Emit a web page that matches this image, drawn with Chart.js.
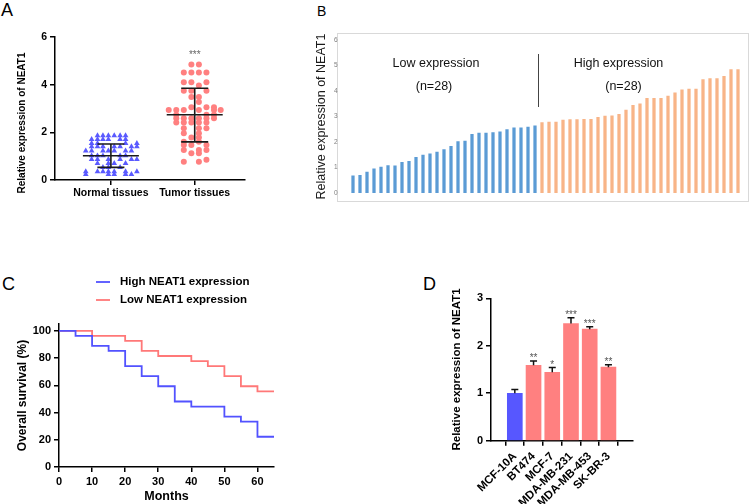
<!DOCTYPE html>
<html><head><meta charset="utf-8">
<script src="https://cdn.jsdelivr.net/npm/chart.js@4.4.0/dist/chart.umd.min.js"></script>
<style>
html,body{margin:0;padding:0;background:#fff;width:750px;height:504px;overflow:hidden;position:relative;font-family:'Liberation Sans',Arial,sans-serif}
canvas{position:absolute}
.lbl{position:absolute;font-size:18px;line-height:18px;color:#000}
#boxB{position:absolute;left:337px;top:33px;width:410px;height:167px;border:1px solid #d9d9d9}
</style></head><body>
<div id="boxB"></div>
<div class="lbl" style="left:1px;top:1px">A</div>
<div class="lbl" style="left:317px;top:4px;font-size:14px;line-height:14px">B</div>
<div class="lbl" style="left:2px;top:275px">C</div>
<div class="lbl" style="left:423px;top:275px">D</div>
<canvas id="cA" width="260" height="210" style="left:0;top:0"></canvas>
<canvas id="cB" width="450" height="190" style="left:300px;top:20px"></canvas>
<canvas id="cC" width="300" height="264" style="left:0;top:240px"></canvas>
<canvas id="cD" width="230" height="234" style="left:420px;top:270px"></canvas>
<script>
// ---------- Panel A data ----------
const groupLabels = ['Normal tissues', 'Tumor tissues'];
const normalPts = [
 [0.84,1.86],[0.905,1.86],[0.97,1.86],[1.04,1.86],[1.11,1.86],[1.175,1.86],
 [0.77,1.71],[0.84,1.71],[0.905,1.71],[0.97,1.71],[1.11,1.71],[1.175,1.71],
 [0.77,1.54],[0.84,1.54],[1.175,1.54],[1.31,1.54],
 [0.77,1.40],[0.84,1.40],[0.905,1.40],[1.04,1.40],[1.11,1.40],[1.245,1.40],[1.31,1.40],
 [0.70,1.22],[0.77,1.22],[0.905,1.22],[0.97,1.22],[1.04,1.22],[1.175,1.22],[1.245,1.22],
 [0.77,1.02],[0.84,1.02],[0.905,1.02],[1.11,1.02],[1.175,1.02],
 [0.77,0.87],[0.84,0.87],[0.97,0.87],[1.11,0.87],[1.245,0.87],[1.31,0.87],
 [0.84,0.70],[0.97,0.70],[1.04,0.70],[1.175,0.70],
 [0.905,0.53],[0.97,0.53],[1.11,0.53],
 [0.70,0.35],[0.84,0.35],[0.905,0.35],[0.97,0.35],[1.04,0.35],[1.175,0.35],[1.31,0.35],
 [0.70,0.24],[0.97,0.24],[1.04,0.24],[1.175,0.24],[1.245,0.24]
];
const tumorPts = [
 [1.96,4.85],[2.05,4.85],
 [1.87,4.51],[1.96,4.51],[2.05,4.51],[2.14,4.51],
 [1.87,4.10],[1.96,4.10],[2.14,4.10],[2.05,3.96],
 [1.87,3.75],[1.96,3.75],[2.14,3.75],
 [1.96,3.48],[2.05,3.48],[2.05,3.27],
 [1.96,3.05],[2.14,3.05],[2.23,3.05],
 [1.69,2.94],[1.78,2.94],[1.87,2.94],[2.05,2.94],[2.23,2.94],[2.31,2.94],
 [1.78,2.74],[2.14,2.74],[2.23,2.74],
 [1.78,2.59],[1.87,2.59],[1.96,2.59],[2.05,2.59],[2.14,2.59],[2.23,2.59],
 [1.78,2.41],[1.87,2.41],[1.96,2.41],[2.05,2.41],[2.14,2.41],
 [1.87,2.17],[2.05,2.17],[2.14,2.17],
 [1.87,1.96],[2.05,1.96],[1.96,1.78],[2.05,1.78],
 [1.87,1.60],[2.05,1.60],
 [1.87,1.47],[1.96,1.47],[2.14,1.47],
 [1.87,1.26],[2.05,1.26],[2.14,1.26],
 [1.96,1.12],[2.05,1.12],[2.14,0.85],[1.87,0.77],[2.05,0.77]
];
const groupMean = [1.02, 2.74];
const groupSDHigh = [1.51, 3.85];
const groupSDLow = [0.53, 1.60];
const groupSig = ['', '***'];
const aTicks = [0, 2, 4, 6];

// ---------- Panel B data ----------
const lowExpr = [0.67,0.69,0.82,0.95,1.02,1.08,1.07,1.20,1.24,1.40,1.49,1.54,1.60,1.70,1.83,2.02,2.04,2.30,2.35,2.35,2.37,2.40,2.49,2.56,2.56,2.59,2.63];
const highExpr = [2.76,2.78,2.78,2.86,2.88,2.88,2.89,2.89,2.97,3.02,3.03,3.09,3.25,3.44,3.50,3.71,3.71,3.71,3.80,3.93,4.05,4.08,4.08,4.45,4.49,4.49,4.58,4.84,4.84];
const bGroupText = ['Low expression', 'High expression'];
const bGroupN = ['(n=28)', '(n=28)'];

// ---------- Panel C data ----------
const highMonths = [0,5,10,15,20,25,30,35,40,50,55,60,65];
const highSurv = [100,96.3,88.9,85.2,74.1,66.7,59.3,48.1,44.4,37.0,33.3,22.2,22.2];
const lowMonths = [0,10,20,25,30,40,45,50,55,60,65];
const lowSurv = [100,96.3,92.6,85.2,81.5,77.8,74.1,66.7,59.3,55.6,55.6];
const cSeries = ['High NEAT1 expression', 'Low NEAT1 expression'];
const cXTicks = [0,10,20,30,40,50,60];
const cYTicks = [0,20,40,60,80,100];

// ---------- Panel D data ----------
const cellLines = ['MCF-10A','BT474','MCF-7','MDA-MB-231','MDA-MB-453','SK-BR-3'];
const cellMeans = [1.00,1.59,1.44,2.47,2.35,1.55];
const cellErr = [0.08,0.09,0.10,0.12,0.05,0.05];
const cellSig = ['','**','*','***','***','**'];
const dTicks = [0,1,2,3];

// ---------- common ----------
const FF = "'Liberation Sans', Arial, sans-serif";
Chart.defaults.font.family = FF;
Chart.defaults.color = '#000';
Chart.defaults.animation = false;
Chart.defaults.responsive = false;
Chart.defaults.devicePixelRatio = 1;
Chart.defaults.plugins.legend.display = false;
Chart.defaults.plugins.tooltip.enabled = false;

const gridStyle = {display:true, drawOnChartArea:false, drawTicks:true, tickLength:5, color:'#000', lineWidth:1.5};
const borderStyle = {display:true, color:'#000', width:1.5};
const bold = (s) => ({size:s, weight:'bold'});
const fixTicks = (arr) => (s) => { s.ticks = arr.map(v => ({value:v})); };

// ---------- Panel A ----------
new Chart(document.getElementById('cA'), {
  type: 'scatter',
  data: {datasets: [
    {data: normalPts.map(p => ({x:p[0], y:p[1]})), pointStyle:'triangle', pointRadius:3.3, backgroundColor:'#5a5aff', borderWidth:0},
    {data: tumorPts.map(p => ({x:p[0], y:p[1]})), pointStyle:'circle', pointRadius:3, backgroundColor:'#ff8080', borderWidth:0}
  ]},
  options: {
    layout: {padding:{top:37, right:15, left:0, bottom:0}},
    scales: {
      x: {type:'linear', min:0.333, max:2.6, afterBuildTicks: fixTicks([1,2]), afterFit: s => { s.height = 30; },
          ticks:{callback: v => groupLabels[v-1], font:bold(10.5), padding:2, maxRotation:0, autoSkip:false},
          grid:gridStyle, border:borderStyle},
      y: {min:0, max:6, afterBuildTicks: fixTicks(aTicks), afterFit: s => { s.width = 55; },
          ticks:{font:bold(10.5), padding:3}, grid:gridStyle, border:borderStyle}
    }
  },
  plugins: [{
    id:'aExtras',
    afterDatasetsDraw(chart) {
      const {ctx, scales:{x, y}} = chart;
      ctx.save();
      ctx.strokeStyle = '#1a1a1a'; ctx.lineWidth = 1.6;
      groupMean.forEach((m, i) => {
        const cx = x.getPixelForValue(i + 1);
        const ym = y.getPixelForValue(m), yh = y.getPixelForValue(groupSDHigh[i]), yl = y.getPixelForValue(groupSDLow[i]);
        ctx.beginPath();
        ctx.moveTo(cx - 28, ym); ctx.lineTo(cx + 28, ym);
        ctx.moveTo(cx - 13.5, yh); ctx.lineTo(cx + 13.5, yh);
        ctx.moveTo(cx - 13.5, yl); ctx.lineTo(cx + 13.5, yl);
        ctx.moveTo(cx, yh); ctx.lineTo(cx, yl);
        ctx.stroke();
        if (groupSig[i]) {
          ctx.fillStyle = '#666'; ctx.font = '10px ' + FF; ctx.textAlign = 'center'; ctx.textBaseline = 'alphabetic';
          ctx.fillText(groupSig[i], cx, y.getPixelForValue(5.12));
        }
      });
      ctx.translate(22, 123);
      ctx.rotate(-Math.PI / 2);
      ctx.fillStyle = '#000'; ctx.font = 'bold 10px ' + FF; ctx.textAlign = 'center'; ctx.textBaseline = 'middle';
      ctx.fillText('Relative expression of NEAT1', 0, 0);
      ctx.restore();
    }
  }]
});

// ---------- Panel B ----------
const bVals = lowExpr.concat(highExpr);
new Chart(document.getElementById('cB'), {
  type: 'bar',
  data: {labels: bVals.map((_, i) => String(i + 1)),
    datasets: [{data: bVals, backgroundColor: bVals.map((_, i) => i < lowExpr.length ? '#5b9bd5' : '#f8b487'), barThickness:2.6}]},
  options: {
    layout: {padding:{top:20, right:8.5, bottom:17, left:0}},
    scales: {
      x: {display:false},
      y: {min:0, max:6, ticks:{stepSize:1, font:{size:6.5}, color:'#808080', padding:4},
          grid:{display:false}, border:{display:false}, afterFit: s => { s.width = 49.5; },
          title:{display:true, text:'Relative expression of NEAT1', font:{size:12.5}, color:'#1a1a1a', padding:{top:14.5, bottom:0}}}
    }
  },
  plugins: [{
    id:'bExtras',
    afterDatasetsDraw(chart) {
      const {ctx, scales:{x, y}} = chart;
      ctx.save();
      const n = lowExpr.length;
      const dx = (x.getPixelForValue(n - 1) + x.getPixelForValue(n)) / 2;
      ctx.strokeStyle = '#444'; ctx.lineWidth = 1;
      ctx.beginPath(); ctx.moveTo(dx, 34); ctx.lineTo(dx, 87); ctx.stroke();
      ctx.fillStyle = '#111'; ctx.font = '12.5px ' + FF; ctx.textAlign = 'center'; ctx.textBaseline = 'alphabetic';
      ctx.fillText(bGroupText[0], 136, 47);
      ctx.fillText(bGroupN[0], 134, 70);
      ctx.fillText(bGroupText[1], 318.5, 47);
      ctx.fillText(bGroupN[1], 323.5, 70);
      ctx.restore();
    }
  }]
});

// ---------- Panel C ----------
new Chart(document.getElementById('cC'), {
  type: 'line',
  data: {datasets: [
    {label: cSeries[0], data: highMonths.map((m, i) => ({x:m, y:highSurv[i]})), borderColor:'#5252ff', borderWidth:1.8, stepped:'before', pointRadius:0, fill:false},
    {label: cSeries[1], data: lowMonths.map((m, i) => ({x:m, y:lowSurv[i]})), borderColor:'#ff7878', borderWidth:1.8, stepped:'before', pointRadius:0, fill:false}
  ]},
  options: {
    layout: {padding:{top:84, right:26, left:0, bottom:0}},
    scales: {
      x: {type:'linear', min:0, max:65, afterBuildTicks: fixTicks(cXTicks), afterFit: s => { s.height = 37; },
          ticks:{font:bold(11), padding:3, maxRotation:0}, grid:gridStyle, border:borderStyle,
          title:{display:true, text:'Months', font:bold(12.5), padding:{top:0, bottom:0}}},
      y: {min:0, max:105, afterBuildTicks: fixTicks(cYTicks), afterFit: s => { s.width = 59; },
          ticks:{font:bold(11), padding:3}, grid:gridStyle, border:borderStyle,
          title:{display:true, text:'Overall survival (%)', font:bold(12), padding:{top:15.3, bottom:0}}}
    }
  },
  plugins: [{
    id:'cLegend',
    afterDraw(chart) {
      const ctx = chart.ctx;
      ctx.save();
      chart.data.datasets.forEach((ds, i) => {
        const yy = 42 + i * 18;
        ctx.strokeStyle = ds.borderColor; ctx.lineWidth = 1.8;
        ctx.beginPath(); ctx.moveTo(96, yy); ctx.lineTo(110, yy); ctx.stroke();
        ctx.fillStyle = '#000'; ctx.font = 'bold 11.5px ' + FF; ctx.textAlign = 'left'; ctx.textBaseline = 'middle';
        ctx.fillText(ds.label, 120, yy);
      });
      ctx.restore();
    }
  }]
});

// ---------- Panel D ----------
new Chart(document.getElementById('cD'), {
  type: 'bar',
  data: {datasets: [{data: cellMeans.map((v, i) => ({x:i, y:v})),
    backgroundColor: cellMeans.map((_, i) => i === 0 ? '#5757ff' : '#ff8080'), barThickness:15}]},
  options: {
    layout: {padding:{top:28.3, right:17, left:0, bottom:0}},
    scales: {
      x: {type:'linear', min:-0.64, max:5.68, afterBuildTicks: fixTicks([0,1,2,3,4,5]), afterFit: s => { s.height = 63.3; },
          ticks:{callback: v => cellLines[v], font:bold(11.5), padding:4, minRotation:45, maxRotation:45, autoSkip:false},
          grid:gridStyle, border:borderStyle},
      y: {min:0, max:3, afterBuildTicks: fixTicks(dTicks), afterFit: s => { s.width = 71; },
          ticks:{font:bold(11), padding:3}, grid:gridStyle, border:borderStyle,
          title:{display:true, text:'Relative expression of NEAT1', font:bold(11.5), padding:{top:30, bottom:0}}}
    }
  },
  plugins: [{
    id:'dExtras',
    afterDatasetsDraw(chart) {
      const {ctx, scales:{x, y}} = chart;
      ctx.save();
      ctx.strokeStyle = '#111'; ctx.lineWidth = 1.5;
      cellMeans.forEach((m, i) => {
        const cx = x.getPixelForValue(i);
        const yt = y.getPixelForValue(m), ye = y.getPixelForValue(m + cellErr[i]);
        ctx.beginPath();
        ctx.moveTo(cx, yt); ctx.lineTo(cx, ye);
        ctx.moveTo(cx - 3.5, ye); ctx.lineTo(cx + 3.5, ye);
        ctx.stroke();
        if (cellSig[i]) {
          ctx.fillStyle = '#555'; ctx.font = '10px ' + FF; ctx.textAlign = 'center'; ctx.textBaseline = 'alphabetic';
          ctx.fillText(cellSig[i], cx, ye);
        }
      });
      ctx.restore();
    }
  }]
});
</script>
</body></html>
